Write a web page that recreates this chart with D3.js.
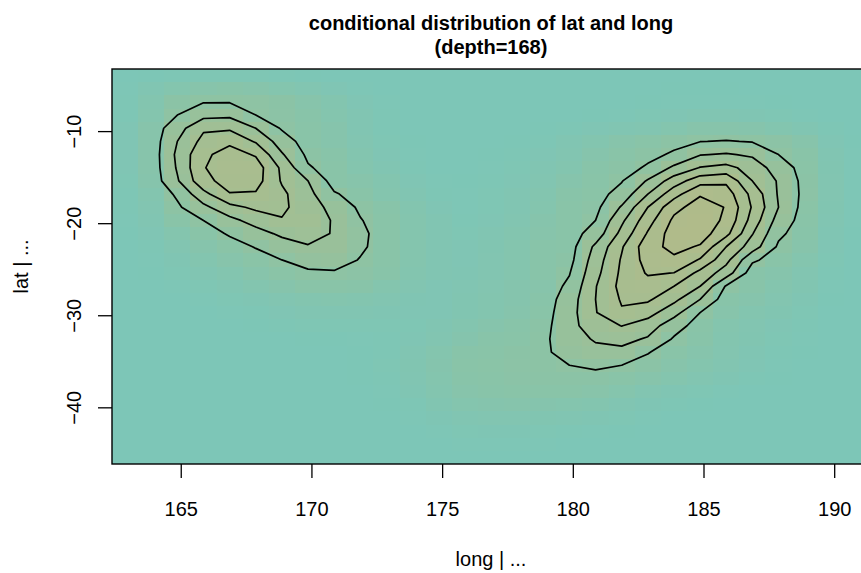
<!DOCTYPE html>
<html>
<head>
<meta charset="utf-8">
<script src="https://cdn.jsdelivr.net/npm/d3@7"></script>
<style>
  body { margin: 0; background: #fff; }
  text { font-family: "Liberation Sans", Arial, Helvetica, sans-serif; fill: #000; }
</style>
</head>
<body>
<div id="chart"></div>
<script>
// grid of the conditional density (cell centres)
var longs = [162.87, 163.87, 164.87, 165.87, 166.87, 167.87, 168.87, 169.87, 170.87, 171.87,
             172.87, 173.87, 174.87, 175.87, 176.87, 177.87, 178.87, 179.87, 180.87, 181.87,
             182.87, 183.87, 184.87, 185.87, 186.87, 187.87, 188.87, 189.87, 190.87];
var lats = [-3.97, -5.40, -6.83, -8.26, -9.69, -11.12, -12.55, -13.98, -15.41, -16.84,
            -18.27, -19.70, -21.13, -22.56, -23.99, -25.42, -26.85, -28.28, -29.71, -31.14,
            -32.57, -34.00, -35.43, -36.86, -38.29, -39.72, -41.15, -42.58, -44.01, -45.44];

// density values (x1000), one row per lat, one column per long
var density = [
  [.04,.06,.1,.12,.12,.12,.1,.06,.04,.04,.04,.04,.04,.04,.04,.04,.04,.04,.04,.04,.04,.04,.04,.04,.04,.04,.04,.04,.04],
  [.08,.2,.35,.45,.5,.45,.35,.25,.15,.08,.04,.04,.04,.04,.04,.04,.04,.04,.04,.04,.05,.06,.06,.06,.05,.04,.04,.04,.04],
  [.1,.3,.7,.95,.95,.9,.7,.45,.3,.15,.08,.04,.04,.04,.04,.04,.04,.04,.04,.05,.06,.08,.08,.08,.08,.06,.04,.04,.04],
  [.1,.35,1.0,1.7,1.8,1.0,.75,.5,.35,.2,.1,.05,.04,.04,.04,.04,.04,.05,.06,.08,.12,.15,.2,.2,.18,.12,.08,.05,.04],
  [.15,.45,1.6,2.85,2.85,2.0,.9,.6,.4,.2,.1,.05,.04,.04,.04,.04,.06,.1,.15,.2,.25,.35,.45,.45,.4,.3,.2,.1,.05],
  [.15,.45,2.0,3.3,3.8,2.9,1.5,.55,.4,.25,.12,.06,.04,.04,.04,.06,.1,.2,.3,.45,.6,.8,.98,1.05,.95,.75,.45,.15,.06],
  [.15,.45,2.2,3.8,4.4,3.9,2.1,.8,.5,.3,.15,.08,.04,.04,.06,.1,.15,.25,.4,.55,.8,1.1,1.95,2.1,1.85,1.0,.6,.2,.08],
  [.15,.45,2.1,3.95,4.5,4.5,2.8,1.1,.6,.35,.2,.1,.05,.05,.08,.12,.2,.3,.5,.7,1.1,2.2,3.05,3.3,2.6,1.5,.65,.22,.08],
  [.12,.4,1.9,3.7,4.4,4.4,2.9,2.0,.6,.45,.3,.15,.08,.06,.1,.15,.25,.4,.6,.95,2.1,3.5,4.6,4.8,3.0,1.9,.7,.25,.08],
  [.1,.3,1.15,2.7,3.95,3.9,3.2,2.3,1.1,.6,.35,.2,.1,.08,.12,.2,.3,.5,.65,1.35,3.0,4.6,5.9,5.5,3.7,1.9,.75,.25,.08],
  [.1,.25,.85,1.75,2.7,3.2,3.15,2.6,1.6,.85,.5,.3,.15,.08,.12,.2,.35,.55,.75,2.1,4.0,5.7,6.45,5.95,3.9,2.0,.65,.22,.08],
  [.08,.2,.55,1.0,1.7,2.4,2.95,2.9,1.85,1.05,.55,.35,.2,.1,.15,.25,.4,.6,1.0,2.8,4.6,6.2,6.6,5.8,3.6,1.6,.6,.2,.08],
  [.06,.15,.35,.6,1.1,1.6,2.2,2.5,1.9,1.2,.6,.35,.2,.12,.2,.3,.45,.6,1.4,3.3,5.1,6.5,6.5,5.3,3.05,1.2,.5,.18,.06],
  [.05,.1,.25,.4,.65,1.05,1.5,1.9,1.85,1.15,.6,.35,.2,.15,.22,.35,.5,.6,2.2,3.9,5.6,6.3,5.9,4.0,2.5,.85,.45,.15,.05],
  [.05,.08,.18,.3,.45,.65,1.0,1.35,1.4,.95,.55,.35,.2,.15,.25,.35,.5,.7,2.5,4.1,5.4,5.8,4.9,3.3,1.15,.6,.35,.12,.05],
  [.04,.06,.12,.2,.3,.45,.65,.85,.9,.75,.5,.3,.2,.18,.25,.35,.5,.95,2.7,4.2,5.1,4.98,3.7,2.5,.5,.4,.25,.1,.05],
  [.04,.05,.08,.12,.2,.3,.4,.55,.55,.5,.35,.25,.15,.2,.28,.38,.45,1.2,2.95,4.3,4.6,4.0,3.0,.9,.5,.35,.22,.08,.04],
  [.04,.04,.05,.08,.12,.18,.25,.3,.35,.3,.25,.18,.15,.22,.3,.38,.5,1.5,3.0,4.1,4.15,3.25,2.0,.5,.4,.28,.18,.06,.04],
  [.04,.04,.04,.05,.08,.1,.15,.2,.2,.2,.18,.15,.15,.22,.3,.4,.6,1.6,2.95,3.9,3.4,2.35,1.0,.45,.3,.22,.12,.05,.04],
  [.04,.04,.04,.04,.05,.06,.1,.12,.12,.12,.12,.12,.2,.3,.4,.5,.7,1.65,2.6,3.02,2.5,1.4,.6,.35,.25,.15,.1,.05,.04],
  [.04,.04,.04,.04,.04,.04,.05,.06,.06,.08,.1,.15,.25,.38,.5,.6,.8,1.6,2.1,2.3,1.9,.9,.5,.3,.22,.12,.08,.04,.04],
  [.04,.04,.04,.04,.04,.04,.04,.05,.05,.06,.1,.2,.33,.5,.6,.7,.82,1.4,1.75,1.75,1.05,.6,.4,.28,.18,.1,.06,.04,.04],
  [.04,.04,.04,.04,.04,.04,.04,.04,.05,.06,.12,.22,.38,.55,.65,.75,.8,1.0,1.15,1.0,.7,.45,.32,.25,.15,.08,.05,.04,.04],
  [.04,.04,.04,.04,.04,.04,.04,.04,.04,.06,.1,.2,.33,.5,.6,.68,.72,.74,.72,.6,.45,.35,.25,.18,.1,.06,.04,.04,.04],
  [.04,.04,.04,.04,.04,.04,.04,.04,.04,.05,.08,.16,.3,.44,.52,.56,.56,.54,.48,.36,.25,.18,.12,.08,.05,.04,.04,.04,.04],
  [.04,.04,.04,.04,.04,.04,.04,.04,.04,.04,.06,.1,.22,.32,.38,.4,.38,.35,.3,.2,.14,.1,.06,.04,.04,.04,.04,.04,.04],
  [.04,.04,.04,.04,.04,.04,.04,.04,.04,.04,.05,.07,.14,.2,.24,.24,.22,.2,.16,.12,.08,.05,.04,.04,.04,.04,.04,.04,.04],
  [.04,.04,.04,.04,.04,.04,.04,.04,.04,.04,.04,.05,.08,.12,.14,.14,.12,.1,.08,.06,.05,.04,.04,.04,.04,.04,.04,.04,.04],
  [.04,.04,.04,.04,.04,.04,.04,.04,.04,.04,.04,.04,.05,.07,.08,.08,.07,.05,.04,.04,.04,.04,.04,.04,.04,.04,.04,.04,.04],
  [.04,.04,.04,.04,.04,.04,.04,.04,.04,.04,.04,.04,.04,.04,.04,.04,.04,.04,.04,.04,.04,.04,.04,.04,.04,.04,.04,.04,.04]
];

var levels = [1, 2, 3, 4, 5, 6];
var longTicks = [165, 170, 175, 180, 185, 190];
var latTicks = [-10, -20, -30, -40];

var titleLines = ['conditional distribution of lat and long', '(depth=168)'];
var xLabel = 'long | ...';
var yLabel = 'lat | ...';

var width = 861, height = 573;
var plot = { left: 112, right: 870, top: 69, bottom: 464 };

var longStep = longs[1] - longs[0];
var latStep = lats[0] - lats[1];

var x = d3.scaleLinear()
    .domain([longs[0] - longStep / 2, longs[longs.length - 1] + longStep / 2])
    .range([plot.left, plot.right]);
var y = d3.scaleLinear()
    .domain([lats[lats.length - 1] - latStep / 2, lats[0] + latStep / 2])
    .range([plot.bottom, plot.top]);

var color = d3.scaleLinear()
    .domain([0, 0.5, 1.5, 3.5, 6.6])
    .range(['#7cc6b8', '#88c4a9', '#96c19c', '#a5be91', '#b0bb8a'])
    .clamp(true);

var svg = d3.select('#chart')
    .append('svg')
    .attr('width', width)
    .attr('height', height);

svg.append('clipPath').attr('id', 'clip')
    .append('rect')
    .attr('x', plot.left).attr('y', plot.top)
    .attr('width', plot.right - plot.left).attr('height', plot.bottom - plot.top);

var cells = [];
density.forEach(function(row, i) {
    row.forEach(function(v, j) {
        cells.push({ long: longs[j], lat: lats[i], value: v });
    });
});

svg.append('g')
    .attr('clip-path', 'url(#clip)')
    .selectAll('rect')
    .data(cells)
    .enter()
    .append('rect')
    .attr('x', d => x(d.long - longStep / 2))
    .attr('y', d => y(d.lat + latStep / 2))
    .attr('width', d => x(d.long + longStep / 2) - x(d.long - longStep / 2) + 0.5)
    .attr('height', d => y(d.lat - latStep / 2) - y(d.lat + latStep / 2) + 0.5)
    .style('fill', d => color(d.value))
    .attr('shape-rendering', 'crispEdges');

// contour lines on the same grid
var contours = d3.contours()
    .size([longs.length, lats.length])
    .thresholds(levels)(density.flat());

var toPlot = d3.geoTransform({
    point: function(gx, gy) {
        this.stream.point(x(longs[0] + (gx - 0.5) * longStep), y(lats[0] - (gy - 0.5) * latStep));
    }
});

svg.append('g')
    .attr('clip-path', 'url(#clip)')
    .selectAll('path')
    .data(contours)
    .enter()
    .append('path')
    .attr('d', d3.geoPath(toPlot))
    .style('fill', 'none')
    .style('stroke', '#000')
    .style('stroke-width', 1.7)
    .style('stroke-linejoin', 'round');

// box
svg.append('rect')
    .attr('x', plot.left).attr('y', plot.top)
    .attr('width', plot.right - plot.left).attr('height', plot.bottom - plot.top)
    .style('fill', 'none')
    .style('stroke', '#000')
    .style('stroke-width', 1.4);

// axes
var xAxis = svg.append('g')
    .attr('transform', 'translate(0,' + plot.bottom + ')')
    .call(d3.axisBottom(x).tickValues(longTicks).tickSize(14).tickSizeOuter(0).tickFormat(d3.format('d')));
xAxis.select('.domain').remove();
xAxis.selectAll('line').style('stroke', '#000').style('stroke-width', 1.3);
xAxis.selectAll('text')
    .attr('y', 52)
    .attr('dy', null)
    .style('font-size', '20px');

var yAxis = svg.append('g')
    .attr('transform', 'translate(' + plot.left + ',0)')
    .call(d3.axisLeft(y).tickValues(latTicks).tickSize(14).tickSizeOuter(0).tickFormat(d3.format('d')));
yAxis.select('.domain').remove();
yAxis.selectAll('line').style('stroke', '#000').style('stroke-width', 1.3);
yAxis.selectAll('text')
    .attr('transform', 'rotate(-90)')
    .attr('x', 0)
    .attr('y', -31)
    .attr('dy', null)
    .attr('text-anchor', 'middle')
    .style('font-size', '20px');

// titles
svg.selectAll('.title')
    .data(titleLines)
    .enter()
    .append('text')
    .attr('class', 'title')
    .attr('x', (plot.left + plot.right) / 2)
    .attr('y', (d, i) => 30 + i * 24)
    .attr('text-anchor', 'middle')
    .style('font-size', '20px')
    .style('font-weight', 'bold')
    .text(d => d);

svg.append('text')
    .attr('x', (plot.left + plot.right) / 2)
    .attr('y', 566)
    .attr('text-anchor', 'middle')
    .style('font-size', '20px')
    .text(xLabel);

svg.append('text')
    .attr('transform', 'translate(28,' + (plot.top + plot.bottom) / 2 + ') rotate(-90)')
    .attr('text-anchor', 'middle')
    .style('font-size', '20px')
    .text(yLabel);
</script>
</body>
</html>
